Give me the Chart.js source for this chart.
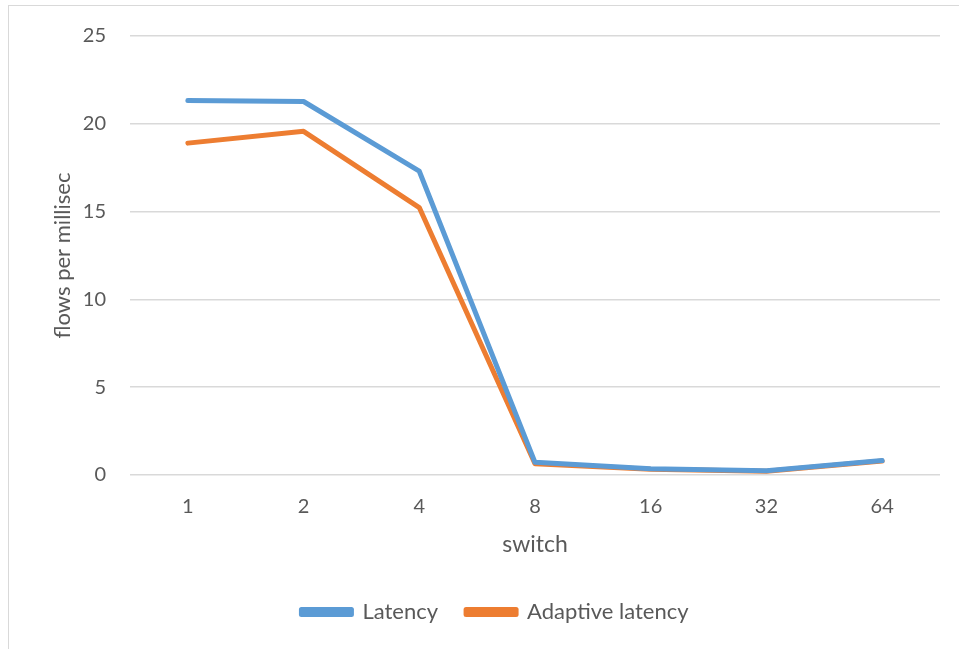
<!DOCTYPE html>
<html><head><meta charset="utf-8">
<script src="https://cdn.jsdelivr.net/npm/chart.js@4/dist/chart.umd.min.js"></script>
<style>
html,body{margin:0;padding:0;background:#fff;}
#wrap{position:absolute;left:0;top:0;width:959px;height:649px;}
#frame{position:absolute;left:8px;top:5px;width:960px;height:660px;border:1.5px solid #D9D9D9;box-sizing:border-box;}
canvas{position:absolute;left:0;top:0;}
</style></head>
<body>
<div id="wrap"><div id="frame"></div><canvas id="c" width="959" height="649"></canvas></div>
<script>
const categories = ['1','2','4','8','16','32','64'];
const latency = [21.32, 21.27, 17.3, 0.72, 0.36, 0.24, 0.82];
const adaptiveLatency = [18.9, 19.57, 15.23, 0.64, 0.33, 0.22, 0.8];
const seriesNames = ['Latency','Adaptive latency'];
const yTicks = [0,5,10,15,20,25];
const FONT = 'Lato, "Open Sans", sans-serif';
const TXT = '#595959';
Chart.defaults.font.family = FONT;
new Chart(document.getElementById('c'), {
  type: 'line',
  data: {
    labels: categories,
    datasets: [
      {label: seriesNames[0], data: latency, borderColor:'#5B9BD5', backgroundColor:'#5B9BD5', borderWidth:5, pointRadius:0, tension:0, borderCapStyle:'round', borderJoinStyle:'round'},
      {label: seriesNames[1], data: adaptiveLatency, borderColor:'#ED7D31', backgroundColor:'#ED7D31', borderWidth:5, pointRadius:0, tension:0, borderCapStyle:'round', borderJoinStyle:'round'}
    ]
  },
  options: {
    responsive:false, animation:false,
    layout:{padding:{left:50, right:19, top:34, bottom:16}},
    plugins:{
      tooltip:{enabled:false},
      legend:{position:'bottom', labels:{color:TXT, font:{size:22}, boxWidth:50, boxHeight:5, padding:28}}
    },
    scales:{
      x:{
        offset:true,
        grid:{display:false, drawTicks:false},
        border:{display:false},
        ticks:{color:TXT, font:{size:20}, padding:20},
        title:{display:true, text:'switch', color:TXT, font:{size:23}, padding:{top:10,bottom:15}},
        afterFit(s){ s.height = 98; }
      },
      y:{
        min:0, max:25,
        afterBuildTicks(s){ s.ticks = yTicks.map(v=>({value:v})); },
        grid:{color:'#D9D9D9', lineWidth:1.5, drawTicks:false},
        border:{display:false},
        ticks:{color:TXT, font:{size:20}, padding:24},
        title:{display:true, text:'flows per millisec', color:TXT, font:{size:22}, padding:{top:0,bottom:16}},
        afterFit(s){ s.width = 80; }
      }
    }
  }
});
</script>
</body></html>
